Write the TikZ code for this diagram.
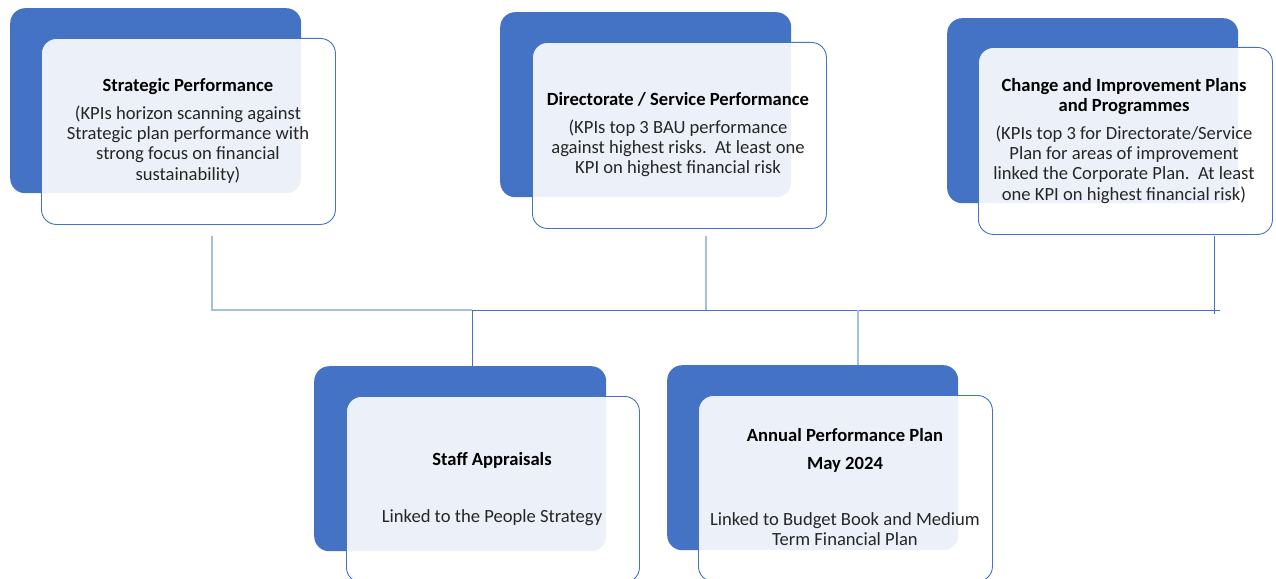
\documentclass[tikz,border=0pt]{standalone}
\usepackage{fontspec}
\setmainfont{Carlito}
\definecolor{accent}{HTML}{4472C4}
\definecolor{lightline}{HTML}{A6BCE5}
\definecolor{bodytext}{HTML}{262626}
\begin{document}
\begin{tikzpicture}[x=1pt,y=-1pt,
  backbox/.style={draw=none,fill=accent,rounded corners=15pt,minimum width=291pt,minimum height=185pt,inner sep=0pt},
  frontbox/.style={draw=accent,line width=0.9pt,fill=white,fill opacity=0.9,text opacity=1,rounded corners=15pt,minimum width=294pt,minimum height=186pt,inner sep=0pt},
  boxtext/.style={align=center,font=\fontsize{18.6}{20.3}\selectfont,text=bodytext},
  conn/.style={draw=accent,line width=0.8pt},
  connlight/.style={draw=lightline,line width=1.2pt}
]
\useasboundingbox (0,0) rectangle (1276,578);
% box 1
\node[backbox,anchor=north west] (b1) at (10,8) {};
\node[frontbox,anchor=north west] (f1) at (41,38) {};
\node[boxtext] (t1) at (188,131) {\textbf{\color{black}Strategic Performance}\\[7pt]
(KPIs horizon scanning against\\Strategic plan performance with\\strong focus on financial\\sustainability)};
% box 2
\node[backbox,anchor=north west] (b2) at (500,12) {};
\node[frontbox,anchor=north west] (f2) at (532,42) {};
\node[boxtext] (t2) at (678,135) {\textbf{\color{black}Directorate / Service Performance}\\[7pt]
(KPIs top 3 BAU performance\\against highest risks.\ \ At least one\\KPI on highest financial risk};
% box 3
\node[backbox,anchor=north west] (b3) at (947,18) {};
\node[frontbox,anchor=north west,minimum height=187pt] (f3) at (978,47) {};
\node[boxtext] (t3) at (1124,141) {\textbf{\color{black}Change and Improvement Plans}\\\textbf{\color{black}and Programmes}\\[7pt]
(KPIs top 3 for Directorate/Service\\Plan for areas of improvement\\linked the Corporate Plan.\ \ At least\\one KPI on highest financial risk)};
% box 4
\node[backbox,anchor=north west,minimum width=292pt] (b4) at (314,366) {};
\node[frontbox,anchor=north west,minimum width=293pt] (f4) at (346,396) {};
\node[boxtext] (t4) at (492,489) {\textbf{\color{black}Staff Appraisals}\\[36pt]
Linked to the People Strategy};
% box 5
\node[backbox,anchor=north west] (b5) at (667,365) {};
\node[frontbox,anchor=north west] (f5) at (698,395) {};
\node[boxtext] (t5) at (845,487) {\textbf{\color{black}Annual Performance Plan}\\[8pt]
\textbf{\color{black}May 2024}\\[36pt]
Linked to Budget Book and Medium\\Term Financial Plan};
% connectors
\coordinate (c1) at (212,236);
\coordinate (c2) at (706,236);
\coordinate (c3) at (1214,236);
\coordinate (bus1) at (212,310);
\coordinate (bus2) at (706,310);
\coordinate (bus3) at (1214,314);
\coordinate (busend) at (1220,310);
\coordinate (bus4) at (472,310);
\coordinate (bus5) at (858,310);
\draw[connlight] (c1) -- (bus1) -- (bus4);
\draw[conn] (bus4) -- (busend);
\draw[connlight] (c2) -- (bus2);
\draw[conn] (c3) -- (bus3);
\draw[conn] (bus4) -- (b4.north -| bus4);
\draw[connlight] (bus5) -- (b5.north -| bus5);
\end{tikzpicture}
\end{document}
